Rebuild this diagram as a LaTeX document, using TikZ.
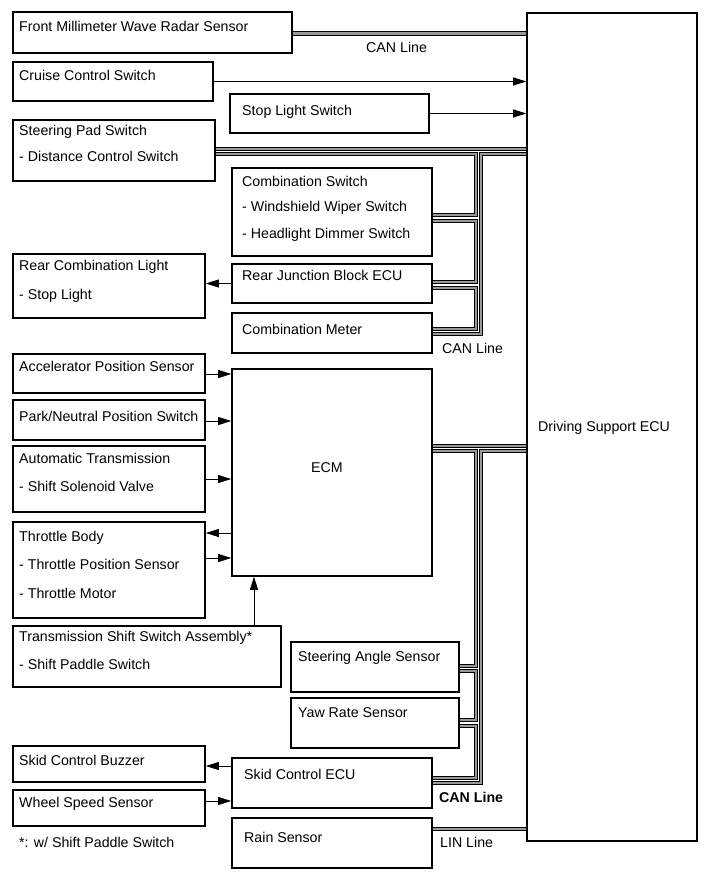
\documentclass[tikz,border=0pt]{standalone}
\usepackage{fontspec}
\setmainfont{Liberation Sans}
\usetikzlibrary{arrows.meta,fit}
\newcommand\bx[5]{\node[box, fit={(#2,#3) (#4,#5)}] (#1) {};}
\newcommand\tx[4]{\node[txt] (#1) at (#2,#3) {#4};}
\begin{document}
\begin{tikzpicture}[x=1pt,y=-1pt,
 box/.style={draw=black, line width=1.6pt, inner sep=0pt},
 txt/.style={anchor=base west, inner sep=0pt, font=\fontsize{14.2}{16}\selectfont},
 bus/.style={draw=black, line width=0.9pt, double=black!40, double distance=2.5pt},
 arr/.style={draw=black, line width=0.8pt, -{Triangle[length=13pt,width=8pt]}},
]
\useasboundingbox (0,0) rectangle (713,882);
% boxes
\bx{front}{13}{12}{292}{53}
\bx{cruise}{13}{62}{213}{101}
\bx{stop}{230}{94}{429}{133}
\bx{spad}{13}{120}{215}{181}
\bx{csw}{232}{168}{432}{256}
\bx{rjb}{232}{264}{432}{303}
\bx{rcl}{13}{254}{205}{318}
\bx{cmeter}{232}{313}{432}{353}
\bx{acc}{13}{354}{205}{393}
\bx{park}{13}{400}{205}{440}
\bx{at}{13}{446}{205}{512}
\bx{thr}{13}{522}{205}{618}
\bx{ecm}{232}{369}{432}{576}
\bx{tss}{13}{626}{281}{687}
\bx{sas}{291}{642}{459}{692}
\bx{yaw}{291}{698}{459}{748}
\bx{buzz}{13}{746}{205}{782}
\bx{wheel}{13}{790}{205}{826}
\bx{skid}{232}{758}{432}{808}
\bx{rain}{232}{818}{432}{868}
\bx{dse}{527}{13}{697}{841}
% texts
\tx{t1}{19}{32}{Front Millimeter Wave Radar Sensor}
\tx{t2}{19}{81}{Cruise Control Switch}
\tx{t3}{242}{116}{Stop Light Switch}
\tx{t4}{19}{136}{Steering Pad Switch}
\tx{t5}{19}{162}{- Distance Control Switch}
\tx{t6}{242}{187}{Combination Switch}
\tx{t7}{242}{212}{- Windshield Wiper Switch}
\tx{t8}{242}{239}{- Headlight Dimmer Switch}
\tx{t9}{19}{270}{Rear Combination Light}
\tx{t10}{19}{299}{- Stop Light}
\tx{t11}{242}{280}{Rear Junction Block ECU}
\tx{t12}{242}{334}{Combination Meter}
\tx{t13}{19}{371}{Accelerator Position Sensor}
\tx{t14}{19}{421}{Park/Neutral Position Switch}
\tx{t15}{19}{463}{Automatic Transmission}
\tx{t16}{19}{491}{- Shift Solenoid Valve}
\tx{t17}{19}{541}{Throttle Body}
\tx{t18}{19}{569}{- Throttle Position Sensor}
\tx{t19}{19}{598}{- Throttle Motor}
\tx{t20}{19}{641}{Transmission Shift Switch Assembly*}
\tx{t21}{19}{669}{- Shift Paddle Switch}
\tx{t22}{298}{661}{Steering Angle Sensor}
\tx{t23}{298}{717}{Yaw Rate Sensor}
\tx{t24}{19}{765}{Skid Control Buzzer}
\tx{t25}{244}{779}{Skid Control ECU}
\tx{t26}{19}{807}{Wheel Speed Sensor}
\tx{t27}{244}{842}{Rain Sensor}
\tx{t28}{19}{847}{*: w/ Shift Paddle Switch}
\tx{t29}{311}{472}{ECM}
\tx{t30}{538}{431}{Driving Support ECU}
\tx{l1}{366}{53}{CAN Line}
\tx{l2}{442}{353}{CAN Line}
\node[txt, font=\fontsize{14.2}{16}\selectfont\bfseries] (l3) at (439,802) {CAN Line};
\tx{l4}{440}{847}{LIN Line}
% arrows
\draw[arr] (cruise.east) -- (cruise.east -| dse.west);
\draw[arr] (stop.east) -- (stop.east -| dse.west);
\draw[arr] (rjb.west) -- (rjb.west -| rcl.east);
\draw[arr] (acc.east |- 0,374) -- (ecm.west |- 0,374);
\draw[arr] (park.east |- 0,421) -- (ecm.west |- 0,421);
\draw[arr] (at.east |- 0,479) -- (ecm.west |- 0,479);
\draw[arr] (ecm.west |- 0,533) -- (thr.east |- 0,533);
\draw[arr] (thr.east |- 0,558) -- (ecm.west |- 0,558);
\draw[arr] (tss.north -| 254,0) -- (ecm.south -| 254,0);
\draw[arr] (skid.west |- 0,766) -- (buzz.east |- 0,766);
\draw[arr] (wheel.east |- 0,801) -- (skid.west |- 0,801);
% buses
\draw[bus] (front.east |- 0,33.5) -- (dse.west |- 0,33.5);
\draw[bus] (spad.east |- 0,149) -- (dse.west |- 0,149);
\draw[bus] (spad.east |- 0,154) -- (476,154) -- (476,215) -- (csw.east |- 0,215);
\draw[bus] (csw.east |- 0,221) -- (476,221) -- (476,282) -- (rjb.east |- 0,282);
\draw[bus] (rjb.east |- 0,288) -- (476,288) -- (476,329) -- (cmeter.east |- 0,329);
\draw[bus] (dse.west |- 0,154) -- (481,154) -- (481,334) -- (cmeter.east |- 0,334);
\draw[bus] (ecm.east |- 0,446) -- (dse.west |- 0,446);
\draw[bus] (ecm.east |- 0,451) -- (476,451) -- (476,666) -- (sas.east |- 0,666);
\draw[bus] (sas.east |- 0,671) -- (476,671) -- (476,720) -- (yaw.east |- 0,720);
\draw[bus] (yaw.east |- 0,726) -- (476,726) -- (476,778) -- (skid.east |- 0,778);
\draw[bus] (dse.west |- 0,451) -- (481,451) -- (481,783) -- (skid.east |- 0,783);
\draw[bus] (rain.east |- 0,829) -- (dse.west |- 0,829);
\end{tikzpicture}
\end{document}
